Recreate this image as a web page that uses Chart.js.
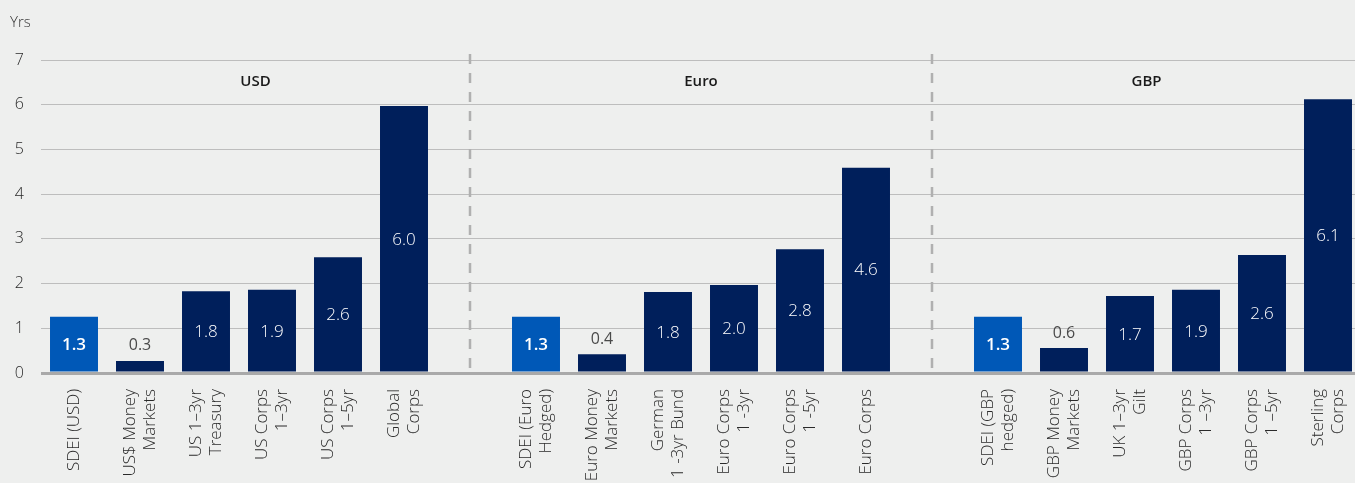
<!DOCTYPE html>
<html>
<head>
<meta charset="utf-8">
<script src="https://cdn.jsdelivr.net/npm/chart.js@4.4.1/dist/chart.umd.min.js"></script>
<style>
  html, body { margin: 0; padding: 0; background: #eeefee; overflow: hidden; }
  #wrap { width: 1380px; height: 483px; }
</style>
</head>
<body>
<div id="wrap"><canvas id="durationChart" width="1376" height="483"></canvas></div>
<script>
// Duration by fund / index, in years
const categories = [
    ['SDEI (USD)'], ['US$ Money', 'Markets'], ['US 1–3yr', 'Treasury'], ['US Corps', '1–3yr'], ['US Corps', '1–5yr'], ['Global', 'Corps'],
    [''],
    ['SDEI (Euro', 'Hedged)'], ['Euro Money', 'Markets'], ['German', '1 -3yr Bund'], ['Euro Corps', '1 -3yr'], ['Euro Corps', '1 -5yr'], ['Euro Corps'],
    [''],
    ['SDEI (GBP', 'hedged)'], ['GBP Money', 'Markets'], ['UK 1–3yr', 'Gilt'], ['GBP Corps', '1 –3yr'], ['GBP Corps', '1 –5yr'], ['Sterling', 'Corps']
];
const durations = [1.26, 0.27, 1.83, 1.86, 2.59, 5.97, null, 1.26, 0.42, 1.81, 1.97, 2.77, 4.59, null, 1.26, 0.56, 1.72, 1.86, 2.64, 6.12];
const groupNames = ['USD', 'Euro', 'GBP'];
const groupFirst = [0, 7, 14];
const groupLast = [5, 12, 19];
const sdeiIndexes = [0, 7, 14];
const yTicks = [0, 1, 2, 3, 4, 5, 6, 7];

const NAVY = '#001f5b';
const BLUE = '#0058b7';
const FONT = '"Open Sans", Lato, sans-serif';
const LABEL_LINE = 20;

const overlayPlugin = {
    id: 'overlay',
    afterDatasetsDraw(chart) {
        const ctx = chart.ctx;
        const x = chart.scales.x;
        const area = chart.chartArea;
        const meta = chart.getDatasetMeta(0);
        const half = (x.getPixelForValue(1) - x.getPixelForValue(0)) / 2;

        ctx.save();
        // dashed separators between currency groups
        ctx.strokeStyle = '#b0b0b0';
        ctx.lineWidth = 2.5;
        ctx.setLineDash([10, 9]);
        [6, 13].forEach(i => {
            const px = Math.round(x.getPixelForValue(i));
            ctx.beginPath();
            ctx.moveTo(px, area.top - 6);
            ctx.lineTo(px, area.bottom);
            ctx.stroke();
        });
        ctx.setLineDash([]);

        // group headings centred between separators
        ctx.fillStyle = '#1a1a1a';
        ctx.font = '600 15px ' + FONT;
        ctx.textAlign = 'center';
        ctx.textBaseline = 'middle';
        groupNames.forEach((name, g) => {
            const left = g === 0 ? x.getPixelForValue(groupFirst[g]) - half : x.getPixelForValue(groupFirst[g] - 1);
            const right = g === groupNames.length - 1 ? x.getPixelForValue(groupLast[g]) + half : x.getPixelForValue(groupLast[g] + 1);
            ctx.fillText(name, (left + right) / 2, area.top + 22);
        });

        // value labels
        meta.data.forEach((bar, i) => {
            const v = durations[i];
            if (v === null) return;
            const txt = v.toFixed(1);
            const h = bar.base - bar.y;
            const sdei = sdeiIndexes.includes(i);
            if (h < 30) {
                ctx.font = '400 16px ' + FONT;
                ctx.fillStyle = '#4a4a4a';
                ctx.fillText(txt, bar.x, bar.y - 15);
            } else {
                ctx.font = (sdei ? '600 ' : '300 ') + '17px ' + FONT;
                ctx.fillStyle = '#ffffff';
                ctx.fillText(txt, bar.x, bar.y + h / 2 + 1);
            }
        });

        // axis unit
        ctx.fillStyle = '#333333';
        ctx.font = '300 15px ' + FONT;
        ctx.textAlign = 'left';
        ctx.fillText('Yrs', 10, 23);
        ctx.restore();
    }
};

new Chart(document.getElementById('durationChart'), {
    type: 'bar',
    data: {
        labels: categories,
        datasets: [{
            data: durations,
            backgroundColor: ctx => sdeiIndexes.includes(ctx.dataIndex) ? BLUE : NAVY,
            barPercentage: 0.727,
            categoryPercentage: 1.0,
            borderWidth: 0
        }]
    },
    options: {
        responsive: false,
        animation: false,
        layout: { padding: { top: 60, right: 0, left: 0, bottom: 0 } },
        plugins: {
            legend: { display: false },
            tooltip: { enabled: false }
        },
        scales: {
            x: {
                grid: { display: false },
                border: { display: false },
                ticks: {
                    autoSkip: false,
                    maxRotation: 90,
                    minRotation: 90,
                    padding: 8,
                    color: '#2a2a2a',
                    font: { family: FONT, size: 17, weight: '300', lineHeight: LABEL_LINE / 17 }
                },
                afterFit(scale) { scale.height = 110; },
                afterUpdate(scale) {
                    // centre multi-line rotated labels on their bar
                    if (scale._centred) return;
                    scale._centred = true;
                    const compute = scale._computeLabelItems;
                    scale._computeLabelItems = function (area) {
                        const items = compute.call(this, area);
                        items.forEach(item => {
                            const lines = Array.isArray(item.label) ? item.label.length : 1;
                            item.options.translation[0] -= (lines - 1) * LABEL_LINE / 2;
                        });
                        return items;
                    };
                }
            },
            y: {
                min: 0,
                max: 7,
                afterBuildTicks(scale) { scale.ticks = yTicks.map(v => ({ value: v })); },
                grid: {
                    color: c => c.tick.value === 0 ? '#a9a9a9' : '#bdbdbd',
                    lineWidth: c => c.tick.value === 0 ? 3 : 1,
                    drawTicks: false
                },
                border: { display: false },
                ticks: {
                    padding: 17,
                    color: '#2a2a2a',
                    font: { family: FONT, size: 16, weight: '300' }
                },
                afterFit(scale) { scale.width = 41; }
            }
        }
    },
    plugins: [overlayPlugin]
});
</script>
</body>
</html>
